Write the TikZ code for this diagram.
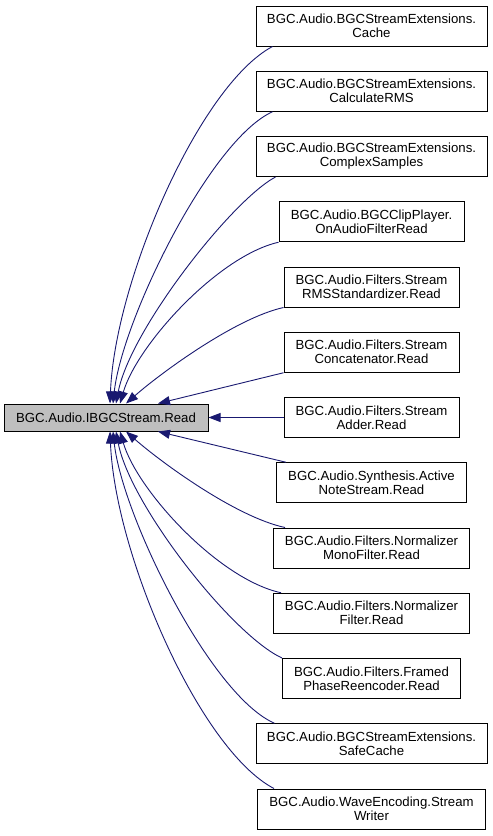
\documentclass[tikz,border=0pt]{standalone}
\usepackage{fontspec}
\setmainfont{Liberation Sans}
\usetikzlibrary{arrows.meta}
\definecolor{edgeblue}{HTML}{191970}
\definecolor{rootgray}{HTML}{BFBFBF}
\begin{document}
\begin{tikzpicture}[x=1pt,y=-1pt,
  box/.style={draw=black, line width=1pt, fill=white, align=center, inner sep=0pt,
    minimum height=40pt, font=\fontsize{13.2}{14}\selectfont},
  rootbox/.style={box, fill=rootgray, minimum height=27pt, minimum width=204pt},
  edge/.style={draw=edgeblue, line width=0.9pt, arrows={Triangle[length=12pt,width=9pt]-}}]
\useasboundingbox (0,0) rectangle (493,836);

\node[rootbox] (root) at (106,417.5) {BGC.Audio.IBGCStream.Read};

\node[box, minimum width=231pt] (n1) at (371.5,26) {BGC.Audio.BGCStreamExtensions.\\Cache};
\node[box, minimum width=231pt] (n2) at (371.5,91.25) {BGC.Audio.BGCStreamExtensions.\\CalculateRMS};
\node[box, minimum width=231pt] (n3) at (371.5,156.5) {BGC.Audio.BGCStreamExtensions.\\ComplexSamples};
\node[box, minimum width=185pt] (n4) at (371.5,221.75) {BGC.Audio.BGCClipPlayer.\\OnAudioFilterRead};
\node[box, minimum width=175pt] (n5) at (371.5,287) {BGC.Audio.Filters.Stream\\RMSStandardizer.Read};
\node[box, minimum width=175pt] (n6) at (371.5,352.25) {BGC.Audio.Filters.Stream\\Concatenator.Read};
\node[box, minimum width=175pt] (n7) at (371.5,417.5) {BGC.Audio.Filters.Stream\\Adder.Read};
\node[box, minimum width=190pt] (n8) at (371.5,482.75) {BGC.Audio.Synthesis.Active\\NoteStream.Read};
\node[box, minimum width=196pt] (n9) at (371.5,548) {BGC.Audio.Filters.Normalizer\\MonoFilter.Read};
\node[box, minimum width=196pt] (n10) at (371.5,613.25) {BGC.Audio.Filters.Normalizer\\Filter.Read};
\node[box, minimum width=178pt] (n11) at (371.5,678.5) {BGC.Audio.Filters.Framed\\PhaseReencoder.Read};
\node[box, minimum width=231pt] (n12) at (371.5,743.75) {BGC.Audio.BGCStreamExtensions.\\SafeCache};
\node[box, minimum width=228pt] (n13) at (371.5,809) {BGC.Audio.WaveEncoding.Stream\\Writer};

% upper edges (tip on top of root)
\draw[edge] ([xshift=4pt]root.north) .. controls (115,280) and (200,85) .. ([xshift=17pt]n1.south west);
\draw[edge] ([xshift=7pt]root.north) .. controls (122,320) and (210,140) .. ([xshift=17pt]n2.south west);
\draw[edge] ([xshift=10pt]root.north) .. controls (130,330) and (232,200) .. ([xshift=20pt]n3.south west);
\draw[edge] ([xshift=14pt]root.north) .. controls (137,345) and (218,256) .. (n4.south west);
\draw[edge] ([xshift=20pt]root.north) .. controls (162,372) and (236,318) .. (n5.south west);
\draw[edge] ([xshift=52pt]root.north) -- (n6.south west);
\draw[edge] (root.east) -- (n7.west);
% lower edges (tip on bottom of root)
\draw[edge] ([xshift=52pt]root.south) -- ([xshift=10pt]n8.north west);
\draw[edge] ([xshift=20pt]root.south) .. controls (162,463) and (236,517) .. ([xshift=12pt]n9.north west);
\draw[edge] ([xshift=14pt]root.south) .. controls (137,490) and (218,579) .. ([xshift=8pt]n10.north west);
\draw[edge] ([xshift=10pt]root.south) .. controls (130,505) and (232,635) .. (n11.north west);
\draw[edge] ([xshift=7pt]root.south) .. controls (122,515) and (210,695) .. ([xshift=19pt]n12.north west);
\draw[edge] ([xshift=4pt]root.south) .. controls (115,555) and (200,750) .. ([xshift=17pt]n13.north west);
\end{tikzpicture}
\end{document}
